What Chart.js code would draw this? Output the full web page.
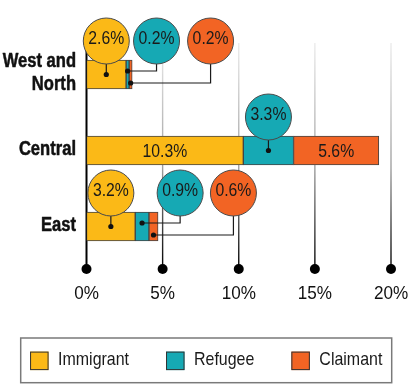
<!DOCTYPE html>
<html><head><meta charset="utf-8">
<style>html,body{margin:0;padding:0;background:#fff}</style>
<script src="https://cdn.jsdelivr.net/npm/chart.js@4.4.1/dist/chart.umd.min.js"></script>
</head><body>
<canvas id="c" width="411" height="384" style="display:block;width:411px;height:384px"></canvas>
<script>
// ---- data ----
const categories = [['West and', 'North'], 'Central', 'East'];
const seriesNames = ['Immigrant', 'Refugee', 'Claimant'];
const immigrant = [2.6, 10.3, 3.2];
const refugee = [0.2, 3.3, 0.9];
const claimant = [0.2, 5.6, 0.6];
const xTicks = [0, 5, 10, 15, 20];

// ---- style / layout ----
const colors = ['#FBB917', '#16A9B4', '#F26424'];
const FAMILY = '"Liberation Sans", Arimo, Arial, sans-serif';
// callout circle centres in axis units (null = directly above the segment)
const calloutX = [[null, 4.6, 8.15], [null, null, null], [null, 6.15, 9.65]];
const elbowDy = [0, -3.5, 8.5];
const R = 23;

function txt(ctx, s, x, y, align, font, color, sx, stroke) {
  ctx.save();
  ctx.font = font; ctx.fillStyle = color || '#1a1a1a';
  ctx.textAlign = align; ctx.textBaseline = 'middle';
  ctx.translate(x, y); ctx.scale(sx, 1);
  ctx.fillText(s, 0, 0);
  if (stroke) { ctx.strokeStyle = color; ctx.lineWidth = stroke; ctx.lineJoin = 'round'; ctx.strokeText(s, 0, 0); }
  ctx.restore();
}

const deco = {
  id: 'deco',
  beforeDatasetsDraw(chart) {
    const { ctx, chartArea, scales: { x } } = chart;
    const top = chartArea.top + 6.5, bot = chartArea.bottom + 4.5;
    ctx.save();
    const g = ctx.createLinearGradient(0, top, 0, bot);
    g.addColorStop(0, '#ececec'); g.addColorStop(0.55, '#a0a0a0'); g.addColorStop(1, '#000');
    xTicks.forEach(v => {
      const px = x.getPixelForValue(v);
      ctx.beginPath();
      ctx.strokeStyle = v === 0 ? '#000' : g;
      ctx.lineWidth = v === 0 ? 2 : 1.4;
      ctx.moveTo(px, top); ctx.lineTo(px, bot); ctx.stroke();
      ctx.beginPath(); ctx.fillStyle = '#000';
      ctx.arc(px, bot, 5, 0, 2 * Math.PI); ctx.fill();
    });
    ctx.restore();
  },
  afterDatasetsDraw(chart) {
    const { ctx, scales: { x, y: yS } } = chart;
    const ds = chart.data.datasets;
    ctx.save();
    // axis labels
    xTicks.forEach(v => txt(ctx, v + '%', x.getPixelForValue(v), chart.chartArea.bottom + 29, 'center', '19px ' + FAMILY, '#111', 0.9));
    categories.forEach((c, i) => {
      const py = yS.getPixelForValue(i);
      const lines = Array.isArray(c) ? c : [c];
      const lh = 22.7;
      lines.forEach((l, j) => {
        const ly = py - 1.2 + (j - (lines.length - 1) / 2) * lh;
        txt(ctx, l, x.left - 10.5, ly, 'right', 'bold 19.5px ' + FAMILY, '#111', 0.85, 0.5);
      });
    });
    // callouts
    const circles = [];
    categories.forEach((c, i) => {
      ds.forEach((d, k) => {
        const el = chart.getDatasetMeta(k).data[i];
        const p = el.getProps(['x', 'base', 'y'], true);
        const left = Math.min(p.base, p.x), right = Math.max(p.base, p.x);
        const cx = (left + right) / 2, w = right - left, y = p.y;
        const label = d.data[i].toFixed(1) + '%';
        if (w > 60) {
          circles.push({ inside: true, cx, y: y + 1, label });
        } else {
          const direct = calloutX[i][k] == null;
          const ccx = direct ? cx : x.getPixelForValue(calloutX[i][k]);
          const ccy = y - 33.5;
          ctx.strokeStyle = '#1a1a1a'; ctx.lineWidth = 1.2; ctx.fillStyle = '#111';
          const dy = direct ? 0 : elbowDy[k];
          ctx.beginPath();
          if (direct) { ctx.moveTo(cx, ccy + R); ctx.lineTo(cx, y); }
          else { ctx.moveTo(cx, y + dy); ctx.lineTo(ccx, y + dy); ctx.lineTo(ccx, ccy + R); }
          ctx.stroke();
          ctx.beginPath(); ctx.arc(cx, y + dy, 2.6, 0, 2 * Math.PI); ctx.fill();
          circles.push({ inside: false, cx: ccx, y: ccy, label, color: d.backgroundColor });
        }
      });
    });
    circles.forEach(o => {
      let ty = o.y;
      if (!o.inside) {
        ctx.beginPath(); ctx.arc(o.cx, o.y, R, 0, 2 * Math.PI);
        ctx.fillStyle = o.color; ctx.fill();
        ctx.strokeStyle = '#4a4a4a'; ctx.lineWidth = 1; ctx.stroke();
        ty = o.y - 2;
      }
      txt(ctx, o.label, o.cx, ty, 'center', '19px ' + FAMILY, '#1a1a1a', 0.83);
    });
    ctx.restore();
  },
  afterDraw(chart) {
    const { ctx } = chart;
    const H = chart.height;
    const bx = 20.7, bw = 371, by = H - 46, bh = 44.7;
    ctx.save();
    ctx.strokeStyle = '#7a7a7a'; ctx.lineWidth = 1.5;
    ctx.strokeRect(bx, by, bw, bh);
    const font = '19px ' + FAMILY, SX = 0.84;
    ctx.font = font;
    const sw = 18.5, gap = 9.5, sp = 37;
    const ds = chart.data.datasets;
    const widths = ds.map(d => sw + gap + ctx.measureText(d.label).width * SX);
    const total = widths.reduce((a, b) => a + b, 0) + sp * (ds.length - 1);
    let cx = bx + bw / 2 - total / 2;
    const cy = by + bh / 2 + 0.5;
    ds.forEach((d, k) => {
      ctx.fillStyle = d.backgroundColor;
      ctx.fillRect(cx, cy - sw / 2, sw, sw);
      ctx.strokeStyle = '#333'; ctx.lineWidth = 1;
      ctx.strokeRect(cx + 0.5, cy - sw / 2 + 0.5, sw - 1, sw - 1);
      txt(ctx, d.label, cx + sw + gap, cy - 1, 'left', font, '#1a1a1a', SX);
      cx += widths[k] + sp;
    });
    ctx.restore();
  }
};

const seriesData = [immigrant, refugee, claimant];
new Chart(document.getElementById('c'), {
  type: 'bar',
  data: {
    labels: categories,
    datasets: seriesNames.map((n, k) => ({
      label: n, data: seriesData[k], backgroundColor: colors[k],
      borderColor: '#444', borderWidth: 1, borderSkipped: false, barThickness: 29
    }))
  },
  options: {
    indexAxis: 'y', responsive: false, animation: false, devicePixelRatio: 1,
    layout: { padding: { top: 36.5, bottom: 79.5, left: 0, right: 0 } },
    plugins: { legend: { display: false }, tooltip: { enabled: false } },
    scales: {
      x: {
        stacked: true, min: 0, max: 20,
        afterBuildTicks(s) { s.ticks = xTicks.map(v => ({ value: v })); },
        afterFit(s) { s.height = 40; s.paddingRight = 20; s.paddingLeft = 0; },
        grid: { display: false, drawTicks: false }, border: { display: false },
        ticks: { display: false }
      },
      y: {
        stacked: true,
        afterFit(s) { s.width = 86.5; s.paddingTop = 0; s.paddingBottom = 0; },
        grid: { display: false, drawTicks: false }, border: { display: false },
        ticks: { display: false }
      }
    }
  },
  plugins: [deco]
});
</script>
</body></html>
